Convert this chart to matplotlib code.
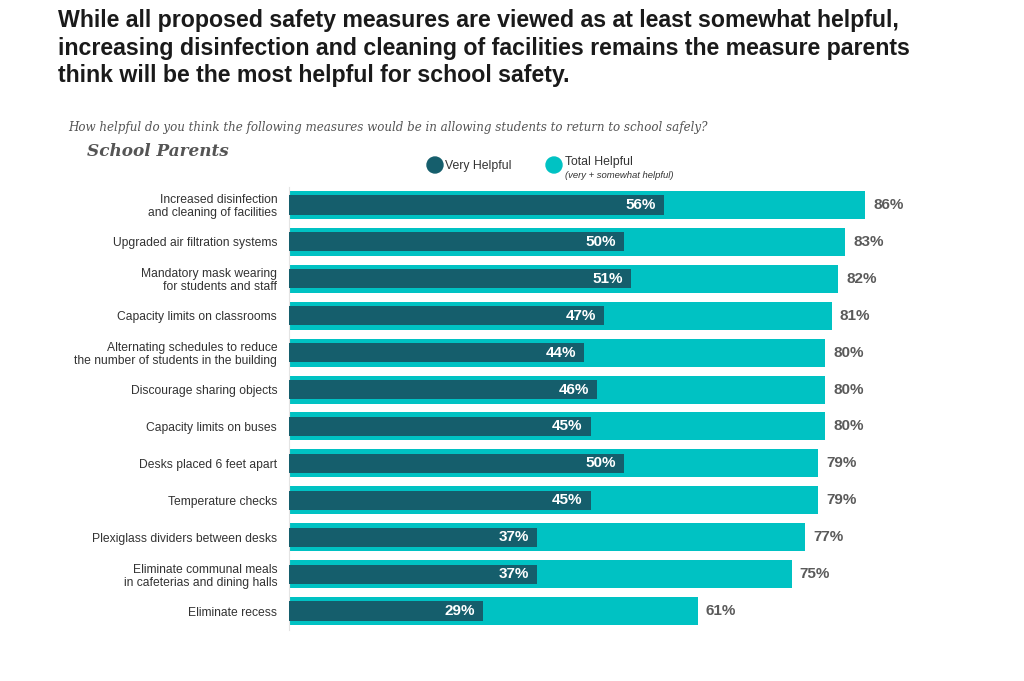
"""Parent views on school safety measures: very helpful vs total helpful."""

import matplotlib

matplotlib.use("Agg")
import matplotlib.pyplot as plt
from matplotlib.patches import Ellipse

CATEGORIES = [
    "Increased disinfection\nand cleaning of facilities",
    "Upgraded air filtration systems",
    "Mandatory mask wearing\nfor students and staff",
    "Capacity limits on classrooms",
    "Alternating schedules to reduce\nthe number of students in the building",
    "Discourage sharing objects",
    "Capacity limits on buses",
    "Desks placed 6 feet apart",
    "Temperature checks",
    "Plexiglass dividers between desks",
    "Eliminate communal meals\nin cafeterias and dining halls",
    "Eliminate recess",
]
VERY_HELPFUL = [56, 50, 51, 47, 44, 46, 45, 50, 45, 37, 37, 29]
TOTAL_HELPFUL = [86, 83, 82, 81, 80, 80, 80, 79, 79, 77, 75, 61]

DARK = "#155E6C"
TEAL = "#00C2C3"
GRAY = "#5A5A5A"
SERIF = ["DejaVu Serif"]

plt.rcParams["font.family"] = ["Liberation Sans", "DejaVu Sans"]

fig = plt.figure(figsize=(10.24, 6.81), dpi=100)
ax = fig.add_axes([289 / 1024, 1 - 629.5 / 681, 670 / 1024, 443 / 681])

ypos = list(range(len(CATEGORIES)))
ax.barh(ypos, TOTAL_HELPFUL, height=0.76, color=TEAL, zorder=2)
ax.barh(ypos, VERY_HELPFUL, height=0.52, color=DARK, zorder=3)

for y, v, t in zip(ypos, VERY_HELPFUL, TOTAL_HELPFUL):
    ax.text(v - 1.2, y, f"{v}%", ha="right", va="center", color="white",
            fontsize=11, fontweight="bold", zorder=4)
    ax.text(t + 1.2, y, f"{t}%", ha="left", va="center", color=GRAY,
            fontsize=11, fontweight="bold")

ax.set_xlim(0, 100)
ax.set_ylim(len(CATEGORIES) - 0.5, -0.5)
ax.set_yticks(ypos)
ax.set_yticklabels(CATEGORIES, fontsize=8.7, color="#333333", linespacing=1.1)
ax.tick_params(axis="y", length=0, pad=8.5)
ax.set_xticks([])
for side in ("top", "right", "bottom"):
    ax.spines[side].set_visible(False)
ax.spines["left"].set_color("#E4E4E4")
ax.spines["left"].set_linewidth(0.8)

title = (
    "While all proposed safety measures are viewed as at least somewhat helpful,\n"
    "increasing disinfection and cleaning of facilities remains the measure parents\n"
    "think will be the most helpful for school safety."
)
fig.text(58 / 1024, 1 - 9 / 681, title, ha="left", va="top", fontsize=16.7,
         fontweight="bold", color="#1A1A1A", linespacing=1.25)

fig.text(68 / 1024, 1 - 127 / 681,
         "How helpful do you think the following measures would be in allowing "
         "students to return to school safely?",
         ha="left", va="center", fontsize=8.6, style="italic", color="#555555",
         family=SERIF)
fig.text(87 / 1024, 1 - 152 / 681, "School Parents", ha="left", va="center",
         fontsize=12.2, style="italic", fontweight="bold", color="#555555",
         family=SERIF)

# legend
for cx, colour in ((435, DARK), (554, TEAL)):
    fig.patches.append(Ellipse((cx / 1024, 1 - 165 / 681), 16 / 1024, 16 / 681,
                               transform=fig.transFigure, color=colour))
fig.text(445 / 1024, 1 - 166 / 681, "Very Helpful", ha="left", va="center",
         fontsize=8.8, color="#333333")
fig.text(565 / 1024, 1 - 162 / 681, "Total Helpful", ha="left", va="center",
         fontsize=8.8, color="#333333")
fig.text(565 / 1024, 1 - 176 / 681, "(very + somewhat helpful)", ha="left",
         va="center", fontsize=6.8, style="italic", color="#333333")

fig.savefig("out.png", dpi=100)
